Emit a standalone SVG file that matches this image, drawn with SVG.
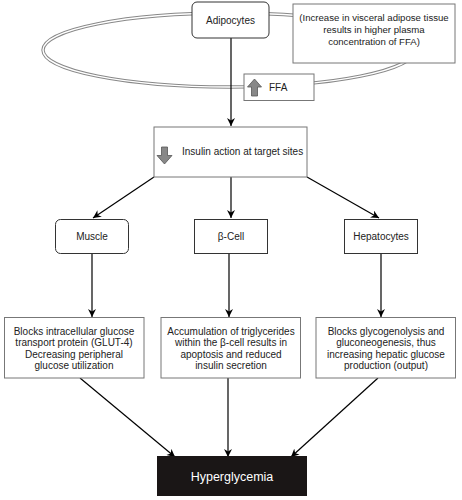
<svg xmlns="http://www.w3.org/2000/svg" width="462" height="500" viewBox="0 0 462 500">
<defs>
<style>
.box{fill:#fff;stroke:#333;stroke-width:1}
.gbox{fill:#fff;stroke:#777;stroke-width:1}
.t{font-family:"Liberation Sans",Arial,sans-serif;font-size:10px;fill:#222;text-anchor:middle}
.n{font-size:9.6px}
.tl{font-family:"Liberation Sans",Arial,sans-serif;font-size:10px;fill:#222}
.c{fill:none;stroke:#000;stroke-width:1.2;marker-end:url(#ah)}
.icon{fill:#888;stroke:#555;stroke-width:0.8}
</style>
<marker id="ah" viewBox="0 0 10 10" refX="10" refY="5" markerWidth="8.5" markerHeight="8" orient="auto" markerUnits="userSpaceOnUse">
<path d="M0,0 L10,5 L0,10 L3,5 Z" fill="#000"/>
</marker>
</defs>
<rect width="462" height="500" fill="#fff"/>

<g id="cycle">
<ellipse cx="229" cy="50" rx="186" ry="37" fill="none" stroke="#888" stroke-width="3.4"/>
<ellipse cx="229" cy="50" rx="186" ry="37" fill="none" stroke="#fff" stroke-width="1.4"/>
</g>

<g id="connectors">
<line class="c" x1="231" y1="38" x2="231" y2="126"/>
<line class="c" x1="154" y1="177" x2="93" y2="218"/>
<line class="c" x1="231" y1="177" x2="231" y2="218"/>
<line class="c" x1="307" y1="177" x2="379" y2="218"/>
<line class="c" x1="92" y1="254" x2="92" y2="317"/>
<line class="c" x1="229" y1="254" x2="229" y2="317"/>
<line class="c" x1="381" y1="254" x2="381" y2="317"/>
<line class="c" x1="80" y1="378" x2="175" y2="457"/>
<line class="c" x1="228" y1="378" x2="228" y2="457"/>
<line class="c" x1="378" y1="378" x2="291" y2="457"/>
</g>

<g id="adipocytes">
<rect class="box" x="192" y="2" width="77" height="36" rx="5" stroke-width="1.3"/>
<text class="t" x="230.5" y="23.5">Adipocytes</text>
</g>

<g id="note">
<rect class="gbox" x="293" y="4" width="162" height="59"/>
<text class="t n" x="374" y="21">(Increase in visceral adipose tissue</text>
<text class="t n" x="374" y="33">results in higher plasma</text>
<text class="t n" x="374" y="45">concentration of FFA)</text>
</g>

<g id="ffa">
<rect class="gbox" x="244" y="74" width="70" height="26.5"/>
<path class="icon" d="M254.5,79 L261.5,87 L257.5,87 L257.5,96 L251.5,96 L251.5,87 L247.5,87 Z"/>
<text class="tl" x="269" y="91">FFA</text>
</g>

<g id="insulin">
<rect class="gbox" x="154" y="127" width="153" height="50"/>
<path class="icon" d="M164.5,164 L172,155.5 L167.5,155.5 L167.5,147 L161.5,147 L161.5,155.5 L157,155.5 Z"/>
<text class="tl" x="182" y="155">Insulin action at target sites</text>
</g>

<g id="muscle">
<rect class="box" x="55.5" y="219.5" width="73" height="34" rx="5"/>
<text class="t" x="92" y="240">Muscle</text>
</g>

<g id="betacell">
<rect class="box" x="194.5" y="219.5" width="73" height="34"/>
<text class="t" x="231" y="240">β-Cell</text>
</g>

<g id="hepatocytes">
<rect class="box" x="344.5" y="219.5" width="73" height="34"/>
<text class="t" x="381" y="240">Hepatocytes</text>
</g>

<g id="muscle-effect">
<rect class="gbox" x="4.5" y="317.5" width="139.5" height="60.5"/>
<text class="t" x="74" y="334.5">Blocks intracellular glucose</text>
<text class="t" x="74" y="346">transport protein (GLUT-4)</text>
<text class="t" x="74" y="357.5">Decreasing peripheral</text>
<text class="t" x="74" y="369">glucose utilization</text>
</g>

<g id="beta-effect">
<rect class="gbox" x="161" y="317.5" width="139.5" height="60.5"/>
<text class="t" x="231" y="334.5">Accumulation of triglycerides</text>
<text class="t" x="231" y="346">within the β-cell results in</text>
<text class="t" x="231" y="357.5">apoptosis and reduced</text>
<text class="t" x="231" y="369">insulin secretion</text>
</g>

<g id="hep-effect">
<rect class="gbox" x="316" y="317.5" width="139.5" height="60.5"/>
<text class="t" x="386" y="334.5">Blocks glycogenolysis and</text>
<text class="t" x="386" y="346">gluconeogenesis, thus</text>
<text class="t" x="386" y="357.5">increasing hepatic glucose</text>
<text class="t" x="386" y="369">production (output)</text>
</g>

<g id="hyperglycemia">
<rect x="157" y="456" width="150" height="40" fill="#1a1616"/>
<text x="232" y="480.5" font-family="'Liberation Sans',Arial,sans-serif" font-size="12.5" fill="#fff" text-anchor="middle">Hyperglycemia</text>
</g>
</svg>
